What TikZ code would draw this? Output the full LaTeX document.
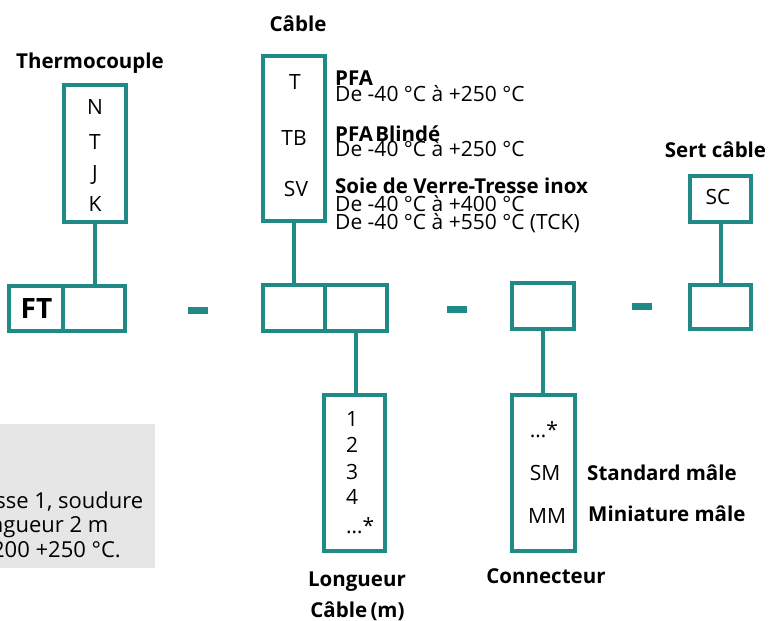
\documentclass[tikz,border=0pt]{standalone}
\usepackage{fontspec}
\setmainfont{Open Sans}
\definecolor{teal1}{RGB}{31,138,134}
\definecolor{greybg}{RGB}{230,230,230}
\begin{document}
\begin{tikzpicture}[x=1pt,y=-1pt,
  box/.style={draw=teal1, line width=4pt, inner sep=0pt, anchor=center},
  wire/.style={draw=teal1, line width=4pt},
  dashbar/.style={fill=teal1, minimum width=20pt, minimum height=7pt, inner sep=0pt},
  txt/.style={font=\fontsize{21}{21}\selectfont, inner sep=0pt, anchor=base},
  txtl/.style={txt, anchor=base west},
  note/.style={font=\fontsize{22}{22}\selectfont, inner sep=0pt, anchor=base east},
  tight/.style={text height=13pt, text depth=1pt},
  ttl/.style={font=\fontsize{20.5}{20.5}\selectfont\bfseries, inner sep=0pt, anchor=base},
  ttll/.style={ttl, anchor=base west}]
\useasboundingbox (0,0) rectangle (771,621);
% grey note box
\fill[greybg] (0,424) rectangle (155,568);
\begin{scope}
\clip (0,424) rectangle (155,568);
\node[note] (g1) at (143.5,508) {asse 1, soudure};
\node[note] (g2) at (108.5,532) {ongueur 2 m};
\node[note] (g3) at (121,557) {200 +250 °C.};
\end{scope}
% Thermocouple
\node[ttl] (tht) at (90,68) {Thermocouple};
\node[box, minimum width=62pt, minimum height=137pt] (thermo) at (95,153.5) {};
\node[txt] (tN) at (95,114) {N};
\node[txt] (tT) at (95,149) {T};
\node[txt] (tJ) at (95,180) {J};
\node[txt] (tK) at (95,211) {K};
\node[box, minimum width=54pt, minimum height=45pt] (ftL) at (36,308.5) {};
\node[box, minimum width=62pt, minimum height=45pt] (ftR) at (94,308.5) {};
\node[font=\fontsize{28}{28}\selectfont\bfseries, inner sep=0pt, anchor=base] (ftT) at (36.5,318) {FT};
\draw[wire] (thermo.south) -- (thermo.south |- ftR.north);
% dashes
\node[dashbar] (d1) at (198,310) {};
\node[dashbar] (d2) at (457,309) {};
\node[dashbar] (d3) at (642,306) {};
% Cable
\node[ttl] (cat) at (298,31) {Câble};
\node[box, minimum width=62pt, minimum height=165pt] (cable) at (294,138.5) {};
\node[txt] (cT) at (295,89) {T};
\node[txt] (cTB) at (294,145) {TB};
\node[txt] (cSV) at (296,196) {SV};
\node[ttll, tight] (p1) at (335,85) {PFA};
\node[txtl, tight] (p1d) at (335,101.5) {De -40 °C à +250 °C};
\node[ttll, tight] (p2) at (335,141) {PFA\hspace{-3pt} Blindé};
\node[txtl, tight] (p2d) at (335,156) {De -40 °C à +250 °C};
\node[ttll, tight] (p3) at (335,193) {Soie de Verre-Tresse inox};
\node[txtl, tight] (p3d) at (335,211) {De -40 °C à +400 °C};
\node[txtl, tight] (p3e) at (335,229) {De -40 °C à +550 °C (TCK)};
\node[box, minimum width=62pt, minimum height=46pt] (lenL) at (294,308) {};
\node[box, minimum width=62pt, minimum height=46pt] (lenR) at (356,308) {};
\draw[wire] (cable.south) -- (cable.south |- lenL.north);
% Longueur
\node[box, minimum width=61pt, minimum height=156pt] (longb) at (354.5,473) {};
\draw[wire] (lenR.south) -- (lenR.south |- longb.north);
\node[txtl] (n1) at (346,426.5) {1};
\node[txtl] (n2) at (346,452) {2};
\node[txtl] (n3) at (346,479) {3};
\node[txtl] (n4) at (346,504) {4};
\node[txtl] (n5) at (346,533) {…*};
\node[ttl] (lt1) at (357,586.5) {Longueur};
\node[ttl] (lt2) at (357.5,617) {Câble\hspace{-2pt} (m)};
% Connecteur
\node[box, minimum width=62pt, minimum height=46pt] (cbox) at (543,306) {};
\node[box, minimum width=63pt, minimum height=156pt] (connb) at (543.5,473) {};
\draw[wire] (cbox.south) -- (cbox.south |- connb.north);
\node[txt] (c1) at (544,437) {…*};
\node[txt] (c2) at (545,480) {SM};
\node[txt] (c3) at (547,523) {MM};
\node[ttll] (c2d) at (587,480) {Standard mâle};
\node[ttll] (c3d) at (588,521) {Miniature mâle};
\node[ttl] (ct) at (546,583) {Connecteur};
% Sert cable
\node[ttl] (st) at (715.5,157) {Sert câble};
\node[box, minimum width=61pt, minimum height=46pt] (scb) at (720.5,199) {};
\node[txt] (sc) at (718,204.5) {SC};
\node[box, minimum width=61pt, minimum height=44pt] (scbox) at (720.5,307) {};
\draw[wire] (scb.south) -- (scb.south |- scbox.north);
\end{tikzpicture}
\end{document}
